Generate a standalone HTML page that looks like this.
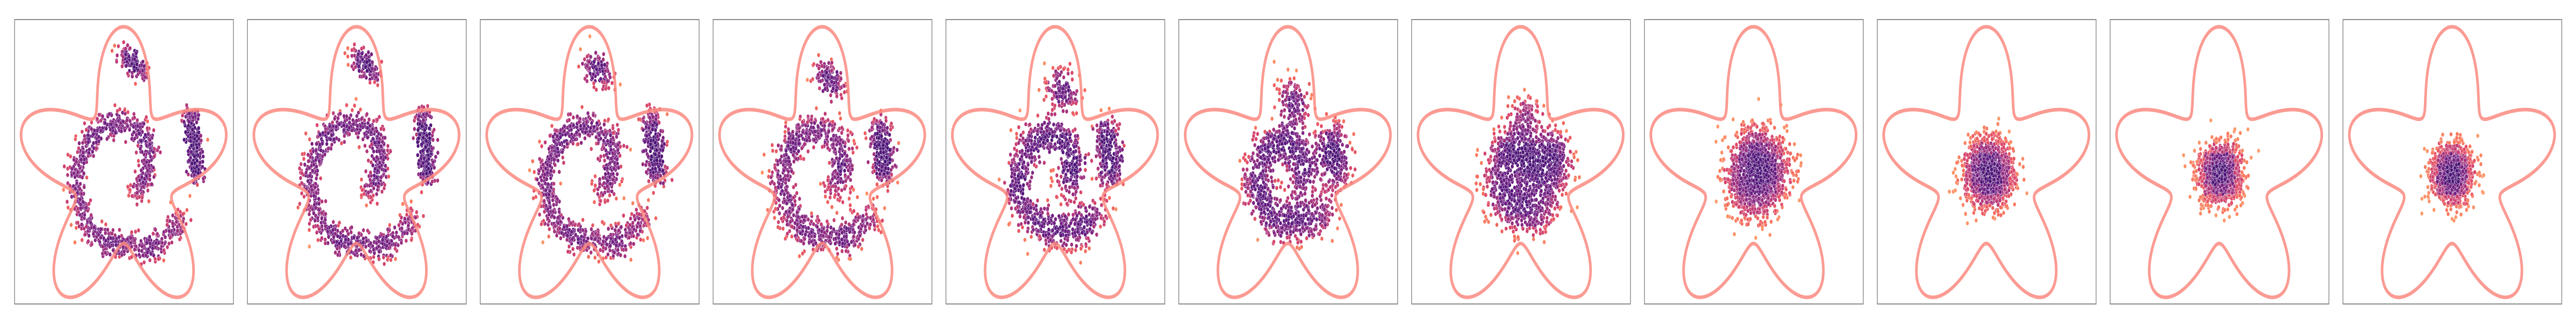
<!DOCTYPE html>
<html><head><meta charset="utf-8">
<style>html,body{margin:0;padding:0;background:#fff;width:100%;height:100%;overflow:hidden;}svg{display:block;width:100vw;height:100vh;}</style>
</head><body>
<svg id="fig" viewBox="0 0 6875 625" preserveAspectRatio="none" xmlns="http://www.w3.org/2000/svg">
<rect width="6875" height="625" fill="#fff"/>
</svg>
<script>
// ---- data (data units; origin at star centre, y up) ----
const arcX = [0.28, 0.6, 0.68, 0.45, 0.05, -0.45, -0.95, -1.28, -1.25, -1.0, -0.7, -0.3, 0.15, 0.7, 1.2, 1.55];
const arcY = [-0.40, 0.0, 0.4, 0.85, 1.05, 0.98, 0.65, 0.1, -0.5, -0.95, -1.2, -1.38, -1.42, -1.5, -1.2, -0.8];
const armX = [1.95, 1.9, 1.82, 1.73];
const armY = [-0.15, 0.35, 0.8, 1.2];
const blobX = [-0.05, 0.55];
const blobY = [2.35, 1.95];
const segmentCounts = [950, 260, 130];
const segmentSpread = [0.13, 0.11, 0.12];
const alphas = [1.0, 0.98, 0.93, 0.86, 0.77, 0.66, 0.5, 0.32, 0.18, 0.08, 0.02];
const finalNoise = [0.26, 0.27];
const starK = 0.36;

// ---- layout ----
const NS = "http://www.w3.org/2000/svg";
const svg = document.getElementById('fig');
const panelLeft0 = 39, panelStep = 621.4, panelTop = 38, panelW = 584, panelH = 552;
const originX = 292, originY = 300, unit = 100, starR = 286;
function sx(v){ return originX + v*unit; }
function sy(v){ return originY - v*unit; }

let seed = 12345;
function rnd(){ seed |= 0; seed = seed + 0x6D2B79F5 | 0; let t = Math.imul(seed ^ seed >>> 15, 1 | seed); t = t + Math.imul(t ^ t >>> 7, 61 | t) ^ t; return ((t ^ t >>> 14) >>> 0) / 4294967296; }
function gauss(){ let u = 1 - rnd(), v = rnd(); return Math.sqrt(-2*Math.log(u))*Math.cos(2*Math.PI*v); }

const segs = [[arcX, arcY], [armX, armY], [blobX, blobY]];
const base = [];
segs.forEach((s, si) => {
  const xs = s[0], ys = s[1];
  const lens = []; let tot = 0;
  for (let i = 0; i < xs.length-1; i++){ const l = Math.hypot(xs[i+1]-xs[i], ys[i+1]-ys[i]); lens.push(l); tot += l; }
  for (let n = 0; n < segmentCounts[si]; n++){
    let d = rnd()*tot, j = 0;
    while (j < lens.length-1 && d > lens[j]){ d -= lens[j]; j++; }
    const f = Math.min(1, d/lens[j]);
    const x = xs[j] + (xs[j+1]-xs[j])*f, y = ys[j] + (ys[j+1]-ys[j])*f;
    base.push([x + gauss()*segmentSpread[si], y + gauss()*segmentSpread[si]]);
  }
});

const magma = [[0.2,[59,15,112]],[0.3,[100,26,128]],[0.4,[140,41,129]],[0.5,[183,55,121]],[0.6,[222,73,104]],[0.7,[247,112,92]],[0.8,[254,159,109]],[0.9,[254,207,146]]];
function cmap(t){
  if (t <= magma[0][0]) return 'rgb(' + magma[0][1].join(',') + ')';
  for (let i = 0; i < magma.length-1; i++){
    const a = magma[i], b = magma[i+1];
    if (t <= b[0]){ const f = (t-a[0])/(b[0]-a[0]); return 'rgb(' + a[1].map((c,k)=>Math.round(c+(b[1][k]-c)*f)).join(',') + ')'; }
  }
  return 'rgb(' + magma[magma.length-1][1].join(',') + ')';
}

let starD = '';
for (let i = 0; i <= 720; i++){
  const th = i/720*2*Math.PI;
  const r = starR*(1 + starK*Math.cos(5*(th - Math.PI/2)))/(1 + starK);
  const x = 291 + r*Math.cos(th), y = 300 - r*Math.sin(th);
  starD += (i ? 'L' : 'M') + x.toFixed(1) + ' ' + y.toFixed(1);
}
starD += 'Z';

alphas.forEach((a, pi) => {
  const g = document.createElementNS(NS, 'g');
  g.setAttribute('transform', 'translate(' + (panelLeft0 + pi*panelStep).toFixed(1) + ',' + panelTop + ')');
  
  
  svg.appendChild(g);

  const s = Math.sqrt(1 - a*a);
  const pts = base.map(p => [a*p[0] + s*finalNoise[0]*gauss(), a*p[1] + s*finalNoise[1]*gauss()]);
  const cell = 0.2, grid = {};
  const key = (i,j) => i + ',' + j;
  pts.forEach(p => { const k = key(Math.floor(p[0]/cell), Math.floor(p[1]/cell)); grid[k] = (grid[k]||0) + 1; });
  const dens = pts.map(p => { const i = Math.floor(p[0]/cell), j = Math.floor(p[1]/cell); let d = 0;
    for (let di=-1; di<=1; di++) for (let dj=-1; dj<=1; dj++) d += (grid[key(i+di,j+dj)]||0) * ((di||dj) ? 0.5 : 1); return d; });
  const maxD = Math.max(...dens);

  const pg = document.createElementNS(NS, 'g');
  
  
  g.appendChild(pg);
  pts.forEach((p, i) => {
    const c = document.createElementNS(NS, 'circle');
    
    
    c.setAttribute('cx', sx(p[0]).toFixed(1));
    c.setAttribute('cy', sy(p[1]).toFixed(1));
    c.setAttribute('r', '4.2');
    const ratio = dens[i]/maxD;
    c.setAttribute('fill', cmap(0.24 + 0.56*Math.pow(1 - ratio, 1.6)));
    c.setAttribute('stroke', 'rgba(255,255,255,0.75)');
    c.setAttribute('stroke-width', '0.7');
    pg.appendChild(c);
  });

  const star = document.createElementNS(NS, 'path');
  
  
  star.setAttribute('d', starD);
  star.setAttribute('fill', 'none');
  star.setAttribute('stroke', '#fa8a80');
  star.setAttribute('stroke-opacity', '0.85');
  star.setAttribute('stroke-width', '7');
  g.appendChild(star);

  const frame = document.createElementNS(NS, 'rect');
  
  
  frame.setAttribute('x', '0'); frame.setAttribute('y', '0');
  frame.setAttribute('width', panelW); frame.setAttribute('height', panelH);
  frame.setAttribute('fill', 'none');
  frame.setAttribute('stroke', '#888');
  frame.setAttribute('stroke-width', '2');
  g.appendChild(frame);
});
</script>
</body></html>
